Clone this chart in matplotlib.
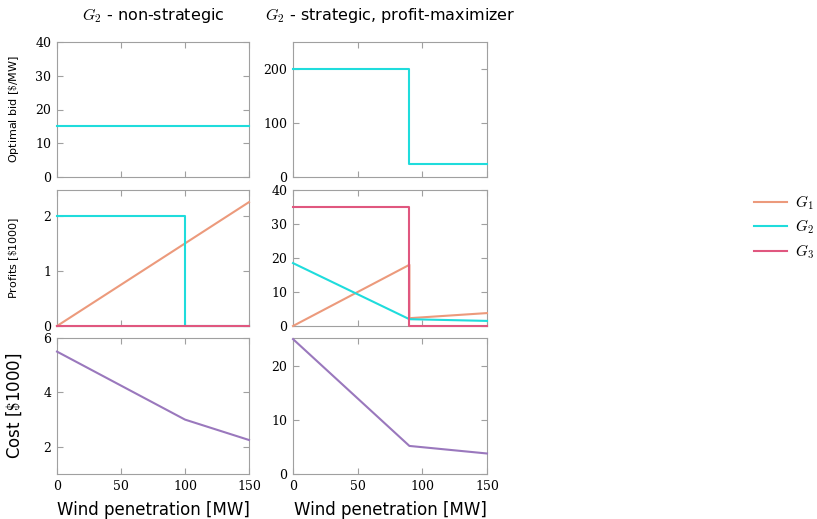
import matplotlib
matplotlib.use("Agg")
import matplotlib.pyplot as plt
from matplotlib.lines import Line2D

plt.rcParams["mathtext.fontset"] = "cm"

# x coordinates (wind penetration, MW)
x_full = [0, 150]
x_step100 = [0, 100, 100, 150]
x_step90 = [0, 90, 90, 150]

# optimal bid [$ / MW]
bid_ns = [15, 15]
bid_s = [200, 200, 25, 25]

# profits [$1000], non-strategic
g1_ns_x = [0, 150]
g1_ns = [0, 2.25]
g2_ns = [2, 2, 0, 0]
g3_ns = [0, 0]

# profits [$1000], strategic
g1_s_x = [0, 90, 90, 150]
g1_s = [0, 18, 2.3, 3.8]
g2_s_x = [0, 90, 150]
g2_s = [18.5, 2.0, 1.5]
g3_s = [35, 35, 0, 0]

# cost [$1000]
cost_ns_x = [0, 100, 150]
cost_ns = [5.5, 3.0, 2.25]
cost_s_x = [0, 90, 150]
cost_s = [25, 5.2, 3.8]

C1 = "#ec9a7c"
C2 = "#1fdcdc"
C3 = "#e0577f"
CC = "#9a78bd"
SPINE = "#a0a0a0"

fig = plt.figure(figsize=(8.17, 5.19), dpi=100)

cols = [(57 / 817, 192 / 817), (293 / 817, 194 / 817)]
rows = [(42, 177), (190, 326), (338, 474)]


def make_ax(c, r):
    x0, w = cols[c]
    top, bot = rows[r]
    ax = fig.add_axes([x0, 1 - bot / 519, w, (bot - top) / 519])
    ax.set_xlim(0, 150)
    ax.set_xticks([0, 50, 100, 150])
    ax.tick_params(direction="in", top=True, right=True, length=4,
                   color=SPINE, labelsize=9, pad=4)
    for lab in ax.get_xticklabels() + ax.get_yticklabels():
        lab.set_family("DejaVu Serif")
    for s in ax.spines.values():
        s.set_color(SPINE)
        s.set_zorder(1)
    if r < 2:
        ax.tick_params(labelbottom=False)
    return ax


lw = 1.5
kw = dict(lw=lw, zorder=3, clip_on=False)

ax = make_ax(0, 0)
ax.plot(x_full, bid_ns, color=C2, **kw)
ax.set_ylim(0, 40)
ax.set_yticks([0, 10, 20, 30, 40])
ax.set_ylabel("Optimal bid [$\\$$/MW]", fontsize=8)
ax.yaxis.set_label_coords(-0.19, 0.5)
ax.set_title("$G_2$ - non-strategic", fontsize=11.5, pad=16)

ax = make_ax(1, 0)
ax.plot(x_step90, bid_s, color=C2, **kw)
ax.set_ylim(0, 250)
ax.set_yticks([0, 100, 200])
ax.set_title("$G_2$ - strategic, profit-maximizer", fontsize=11.5, pad=16)

ax = make_ax(0, 1)
ax.plot(g1_ns_x, g1_ns, color=C1, **kw)
ax.plot(x_step100, g2_ns, color=C2, **kw)
ax.plot(x_full, g3_ns, color=C3, **kw)
ax.set_ylim(0, 2.47)
ax.set_yticks([0, 1, 2])
ax.set_ylabel("Profits [$\\$$1000]", fontsize=8)
ax.yaxis.set_label_coords(-0.19, 0.5)

ax = make_ax(1, 1)
ax.plot(g1_s_x, g1_s, color=C1, **kw)
ax.plot(g2_s_x, g2_s, color=C2, **kw)
ax.plot(x_step90, g3_s, color=C3, **kw)
ax.set_ylim(0, 40)
ax.set_yticks([0, 10, 20, 30, 40])

ax = make_ax(0, 2)
ax.plot(cost_ns_x, cost_ns, color=CC, **kw)
ax.set_ylim(1, 6)
ax.set_yticks([2, 4, 6])
ax.set_ylabel("Cost [$\\$$1000]", fontsize=12)
ax.yaxis.set_label_coords(-0.17, 0.5)
ax.set_xlabel("Wind penetration [MW]", fontsize=12, labelpad=6)

ax = make_ax(1, 2)
ax.plot(cost_s_x, cost_s, color=CC, **kw)
ax.set_ylim(0, 25.2)
ax.set_yticks([0, 10, 20])
ax.set_xlabel("Wind penetration [MW]", fontsize=12, labelpad=6)

handles = [Line2D([], [], color=C1, lw=lw),
           Line2D([], [], color=C2, lw=lw),
           Line2D([], [], color=C3, lw=lw)]
fig.legend(handles, ["$G_1$", "$G_2$", "$G_3$"], loc="center left",
           bbox_to_anchor=(740 / 817, 1 - 227 / 519), frameon=False,
           fontsize=11, handlelength=2.2, labelspacing=0.4, handletextpad=0.5)

fig.savefig("out.png", dpi=100)
